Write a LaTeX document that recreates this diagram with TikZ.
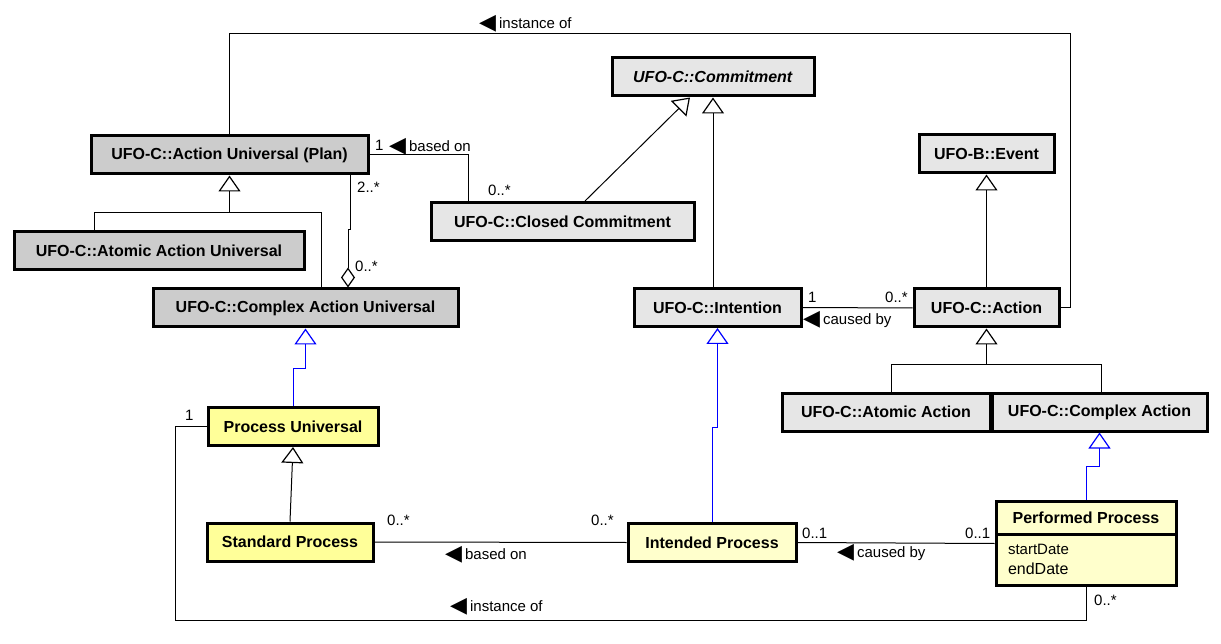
\documentclass[tikz,border=0pt]{standalone}
\usepackage{fontspec}
\setmainfont{Liberation Sans}
\newfontfamily\symfont{DejaVu Sans}
\usepackage{xcolor}
\definecolor{cGrayL}{HTML}{E6E6E6}
\definecolor{cGrayD}{HTML}{CCCCCC}
\definecolor{cYellow}{HTML}{FFFF99}
\definecolor{cYellowL}{HTML}{FFFFCC}
\definecolor{cBlue}{HTML}{0000FF}
\usepackage{tikz}
\usetikzlibrary{positioning,arrows.meta,shapes.multipart}
\newcommand{\dirL}{\raisebox{-1.5pt}{\symfont\fontsize{22}{22}\selectfont ◀}\hspace{3pt}}
\tikzset{
  class-box/.style={draw=black,line width=3pt,minimum height=38pt,align=center,
    font=\fontsize{16}{18}\selectfont\bfseries,inner sep=2pt},
  class-light/.style={fill=cGrayL},
  class-dark/.style={fill=cGrayD},
  class-proc/.style={fill=cYellow},
  class-procl/.style={fill=cYellowL},
  assoc/.style={line width=1pt,draw=black},
  gen/.style={-{Triangle[open,length=16pt,width=22pt,line width=1.2pt]},line width=1pt,draw=black},
  gen-blue/.style={gen,draw=cBlue},
  agg/.style={{Diamond[open,length=20pt,width=14pt,line width=1.2pt]}-,line width=1pt,draw=black},
  lbl/.style={anchor=west,inner sep=0pt,font=\fontsize{15}{18}\selectfont},
}

\begin{document}
\begin{tikzpicture}[x=1pt,y=-1pt]
  \useasboundingbox (0,0) rectangle (1221,644);
  % classes
  \node[class-box,class-light,minimum width=202pt] (commit) at (713,77) {\textit{UFO-C::Commitment}};
  \node[class-box,class-dark,minimum width=277pt] (plan) at (229.5,155) {UFO-C::Action Universal (Plan)};
  \node[class-box,class-dark,minimum width=290pt] (atomicU) at (159,251) {UFO-C::Atomic Action Universal};
  \node[class-box,class-dark,minimum width=305pt] (complexU) at (305.5,308) {UFO-C::Complex Action Universal};
  \node[class-box,class-light,minimum width=263pt] (closed) at (562.5,221.5) {UFO-C::Closed Commitment};
  \node[class-box,class-light,minimum width=135pt] (event) at (986.5,154) {UFO-B::Event};
  \node[class-box,class-light,minimum width=167pt] (intention) at (717.5,307.5) {UFO-C::Intention};
  \node[class-box,class-light,minimum width=145pt] (action) at (986.5,308) {UFO-C::Action};
  \node[class-box,class-light,minimum width=208pt] (atomicA) at (886,412) {UFO-C::Atomic Action};
  \node[class-box,class-light,minimum width=215pt] (complexA) at (1099.5,412) {UFO-C::Complex Action};
  \node[class-box,class-proc,minimum width=170pt] (procU) at (293,426.5) {Process Universal};
  \node[class-box,class-proc,minimum width=166pt] (stdP) at (290,542) {Standard Process};
  \node[class-box,class-procl,minimum width=168pt] (intP) at (712,542.5) {Intended Process};
  \node[class-box,class-procl,minimum width=180pt,rectangle split,rectangle split parts=2,
    rectangle split part align={center,left},align=left,inner xsep=12pt,inner ysep=9pt,
    font=\fontsize{16}{20}\selectfont\bfseries] (perfP) at (1086,543.5)
    {Performed Process\nodepart{two}\fontsize{15}{20}\selectfont\mdseries startDate\\\mdseries endDate};

  % generalizations
  \coordinate (gp) at ([yshift=-37pt]plan.south);
  \draw[assoc] ([xshift=-65pt]atomicU.north) |- (gp);
  \draw[assoc] ([xshift=15.5pt]complexU.north) |- (gp);
  \draw[gen] (gp) -- (plan.south);
  \draw[gen] ([xshift=22.5pt]closed.north) -- ([xshift=-23pt]commit.south);
  \draw[gen] ([xshift=-4.5pt]intention.north) -- (commit.south);
  \draw[gen] (action.north) -- (event.south);
  \coordinate (ga) at ([yshift=-36pt]action.south);
  \draw[assoc] ([xshift=5pt]atomicA.north) |- (ga);
  \draw[assoc] ([xshift=1.5pt]complexA.north) |- (ga);
  \draw[gen] (ga) -- (action.south);
  \draw[gen] (stdP.north) -- (procU.south);
  \draw[gen-blue] (procU.north) -- ++(0,-38) -| (complexU.south);
  \draw[gen-blue] (intP.north) -- ++(0,-95) -| (intention.south);
  \draw[gen-blue] (perfP.north) -- ++(0,-33) -| (complexA.south);

  % aggregation
  \draw[agg] ([xshift=42.5pt]complexU.north) -- ++(0,-58) -| ([xshift=120.5pt]plan.south);
  \node[lbl] (mAggTop) at (357,187) {2..*};
  \node[lbl] (mAggBot) at (355,266) {0..*};

  % associations
  \coordinate (topR) at (1070,34);
  \draw[assoc] (plan.north) |- (topR) |- (action.east);
  \node[lbl] (lInstTop) at (479,24) {\dirL instance of};

  \draw[assoc] (plan.east) -| ([xshift=-94.5pt]closed.north);
  \node[lbl] (mBasedTopA) at (375,145) {1};
  \node[lbl] (lBasedTop) at (389,147) {\dirL based on};
  \node[lbl] (mBasedTopB) at (488,190) {0..*};

  \draw[assoc] (action.west) -- (intention.east);
  \node[lbl] (mCauseTopA) at (808,297) {1};
  \node[lbl] (mCauseTopB) at (885,297) {0..*};
  \node[lbl] (lCauseTop) at (803,320) {\dirL caused by};

  \draw[assoc] (stdP.east) -- (intP.west);
  \node[lbl] (mBasedBotA) at (387,520) {0..*};
  \node[lbl] (mBasedBotB) at (591,520) {0..*};
  \node[lbl] (lBasedBot) at (445,555) {\dirL based on};

  \draw[assoc] (perfP.west) -- (intP.east);
  \node[lbl] (mCauseBotA) at (802,533) {0..1};
  \node[lbl] (mCauseBotB) at (965,533) {0..1};
  \node[lbl] (lCauseBot) at (837,553) {\dirL caused by};

  \coordinate (ib) at ([yshift=-33pt]perfP.south);
  \draw[assoc] (procU.west) -- ++(-31,0) |- (ib) -- (perfP.south);
  \node[lbl] (mInstBotA) at (185,415) {1};
  \node[lbl] (mInstBotB) at (1094,600) {0..*};
  \node[lbl] (lInstBot) at (450,607) {\dirL instance of};
\end{tikzpicture}
\end{document}
